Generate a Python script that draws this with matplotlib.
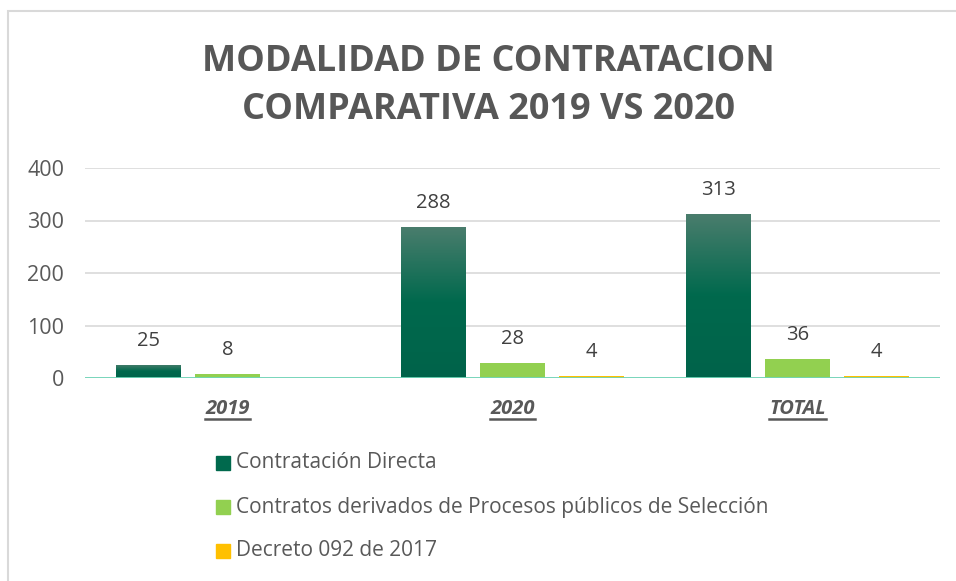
import numpy as np
import matplotlib.pyplot as plt
from matplotlib.patches import Rectangle
from matplotlib.colors import LinearSegmentedColormap

# datos
categorias = ["2019", "2020", "TOTAL"]
series = ["Contratación Directa",
          "Contratos derivados de Procesos públicos de Selección",
          "Decreto 092 de 2017"]
directa = [25, 288, 313]
procesos = [8, 28, 36]
decreto = [None, 4, 4]
colores = ["#00694d", "#92d050", "#ffc000"]

plt.rcParams['font.family'] = ['Open Sans', 'DejaVu Sans']
gris = "#595959"

fig = plt.figure(figsize=(9.56, 5.81), dpi=100)
ax = fig.add_axes([85 / 956, 1 - 378 / 581, 855 / 956, 210 / 581])

# borde del grafico
fig.patches.append(Rectangle((8 / 956, -0.1), 1.2, 1 - 11 / 581 + 0.1,
                             transform=fig.transFigure, fill=False,
                             edgecolor="#d9d9d9", linewidth=1.5))

x = np.arange(len(categorias))
ancho = 0.228
desp = 0.277
grad = LinearSegmentedColormap.from_list("g", ["#00634a", "#00694d", "#4a7d6d"])

for i, (vals, col) in enumerate(zip([directa, procesos, decreto], colores)):
    for xi, v in zip(x, vals):
        if v is None:
            continue
        pos = xi + (i - 1) * desp
        b = ax.bar(pos, v, ancho, color=col, zorder=3)[0]
        if i == 0:
            img = ax.imshow(np.linspace(0, 1, 100).reshape(-1, 1), cmap=grad,
                            extent=[pos - ancho / 2, pos + ancho / 2, 0, v],
                            origin="lower", aspect="auto", zorder=3.5)
            img.set_clip_path(b)
        ax.annotate(str(v), (pos, v), xytext=(0, 10), textcoords="offset points",
                    ha="center", va="bottom", fontsize=14.5, color="#404040")

ax.set_xlim(-0.5, 2.5)
ax.set_ylim(0, 400)
ax.set_yticks([0, 100, 200, 300, 400])
ax.tick_params(axis="y", length=0, pad=15, labelsize=15.5, labelcolor=gris)
ax.set_xticks(x)
ax.set_xticklabels([])
ax.tick_params(axis="x", length=0)
etiquetas = []
for xi, c in zip(x, categorias):
    etiquetas.append(ax.text(xi, -60, c, ha="center", va="center", fontsize=14.5,
                             fontweight="bold", fontstyle="italic", color=gris))
ax.grid(axis="y", color="#d9d9d9", linewidth=1.2, zorder=0)
for s in ax.spines.values():
    s.set_visible(False)
ax.axhline(0, color="#6fd6b8", linewidth=2, zorder=4)

fig.text(488 / 956, 1 - 86 / 581, "MODALIDAD DE CONTRATACION\nCOMPARATIVA 2019 VS 2020",
         ha="center", va="center", fontsize=26, fontweight="bold", color="#575757",
         linespacing=1.45)

# leyenda
for k, (s, col) in enumerate(zip(series, colores)):
    yy = 1 - (463 + k * 44) / 581
    fig.patches.append(Rectangle((216 / 956, yy - 7 / 581), 14 / 956, 14 / 581,
                                 transform=fig.transFigure, color=col))
    fig.text(236 / 956, yy, s, ha="left", va="center", fontsize=15, color=gris)

fig.canvas.draw()
# subrayado de categorias
r = fig.canvas.get_renderer()
for t in etiquetas:
    bb = t.get_window_extent(r)
    y0 = bb.y0 + 1
    fig.add_artist(plt.Line2D([bb.x0 / fig.bbox.width, bb.x1 / fig.bbox.width],
                              [y0 / fig.bbox.height] * 2, color=gris, linewidth=1.8))

fig.savefig("out.png", dpi=100)
